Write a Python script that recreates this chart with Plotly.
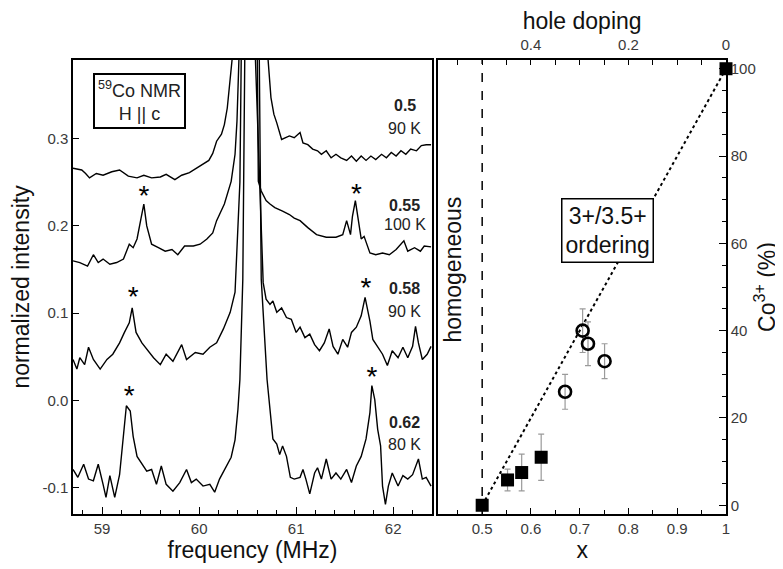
import plotly.graph_objects as go

# 59Co NMR spectra (frequency MHz, normalized intensity)
spec_050 = [(58.70, 0.266), (58.79, 0.264), (58.83, 0.260), (58.87, 0.255), (58.94, 0.260), (59.01, 0.258),
            (59.10, 0.262), (59.18, 0.264), (59.27, 0.257), (59.36, 0.255), (59.43, 0.258), (59.51, 0.255),
            (59.60, 0.256), (59.66, 0.259), (59.75, 0.253), (59.82, 0.258), (59.90, 0.261), (59.97, 0.266),
            (60.04, 0.271), (60.10, 0.275), (60.14, 0.283), (60.18, 0.297), (60.23, 0.305), (60.26, 0.316),
            (60.29, 0.335), (60.31, 0.358), (60.34, 0.391), (60.52, 1.6), (60.71, 0.391), (60.74, 0.347),
            (60.77, 0.328), (60.80, 0.318), (60.83, 0.305), (60.85, 0.299), (60.93, 0.303), (60.98, 0.301),
            (61.04, 0.307), (61.07, 0.295), (61.12, 0.293), (61.17, 0.288), (61.22, 0.286), (61.26, 0.282),
            (61.31, 0.286), (61.36, 0.278), (61.41, 0.282), (61.46, 0.278), (61.52, 0.275), (61.57, 0.280),
            (61.62, 0.274), (61.67, 0.280), (61.72, 0.275), (61.77, 0.280), (61.82, 0.276), (61.88, 0.282),
            (61.93, 0.278), (61.98, 0.284), (62.03, 0.280), (62.08, 0.286), (62.13, 0.282), (62.18, 0.288),
            (62.24, 0.286), (62.29, 0.292), (62.34, 0.293), (62.39, 0.293)]

spec_055 = [(58.70, 0.160), (58.77, 0.158), (58.85, 0.154), (58.91, 0.167), (58.96, 0.158), (59.01, 0.162),
            (59.08, 0.156), (59.15, 0.158), (59.22, 0.162), (59.28, 0.179), (59.32, 0.175), (59.36, 0.185),
            (59.40, 0.208), (59.43, 0.225), (59.46, 0.200), (59.51, 0.179), (59.58, 0.175), (59.65, 0.171),
            (59.72, 0.173), (59.78, 0.167), (59.85, 0.177), (59.94, 0.177), (60.01, 0.179), (60.08, 0.185),
            (60.14, 0.192), (60.18, 0.206), (60.26, 0.225), (60.33, 0.251), (60.37, 0.282), (60.39, 0.320),
            (60.41, 0.391), (60.55, 1.6), (60.60, 0.391), (60.61, 0.251), (60.64, 0.240), (60.69, 0.229),
            (60.73, 0.225), (60.78, 0.221), (60.86, 0.217), (60.93, 0.213), (60.98, 0.209), (61.04, 0.206),
            (61.12, 0.198), (61.21, 0.190), (61.31, 0.187), (61.41, 0.187), (61.48, 0.190), (61.52, 0.206),
            (61.56, 0.190), (61.58, 0.211), (61.61, 0.229), (61.65, 0.200), (61.67, 0.185), (61.70, 0.188),
            (61.76, 0.169), (61.82, 0.167), (61.89, 0.169), (61.96, 0.167), (62.03, 0.173), (62.11, 0.183),
            (62.15, 0.171), (62.22, 0.175), (62.28, 0.171), (62.32, 0.177), (62.39, 0.176)]

spec_058 = [(58.70, 0.047), (58.74, 0.036), (58.77, 0.049), (58.82, 0.041), (58.86, 0.061), (58.91, 0.047),
            (58.98, 0.036), (59.05, 0.047), (59.11, 0.053), (59.18, 0.066), (59.23, 0.078), (59.28, 0.089),
            (59.31, 0.106), (59.35, 0.078), (59.41, 0.066), (59.46, 0.059), (59.53, 0.049), (59.60, 0.041),
            (59.66, 0.053), (59.73, 0.045), (59.82, 0.064), (59.87, 0.047), (59.96, 0.055), (60.04, 0.053),
            (60.11, 0.061), (60.18, 0.066), (60.25, 0.082), (60.32, 0.101), (60.37, 0.124), (60.42, 0.250),
            (60.44, 0.391), (60.55, 1.6), (60.58, 0.391), (60.62, 0.251), (60.66, 0.135), (60.69, 0.116),
            (60.73, 0.110), (60.76, 0.114), (60.80, 0.101), (60.85, 0.106), (60.90, 0.095), (60.95, 0.093),
            (61.00, 0.078), (61.04, 0.084), (61.09, 0.072), (61.14, 0.076), (61.19, 0.064), (61.24, 0.057),
            (61.29, 0.066), (61.34, 0.082), (61.38, 0.062), (61.43, 0.053), (61.48, 0.070), (61.53, 0.061),
            (61.57, 0.078), (61.62, 0.084), (61.67, 0.097), (61.71, 0.118), (61.76, 0.091), (61.79, 0.070),
            (61.84, 0.062), (61.89, 0.053), (61.94, 0.040), (61.99, 0.057), (62.05, 0.049), (62.10, 0.061),
            (62.15, 0.049), (62.20, 0.062), (62.23, 0.085), (62.26, 0.066), (62.30, 0.047), (62.35, 0.053),
            (62.39, 0.062)]

spec_062 = [(58.70, -0.079), (58.75, -0.088), (58.81, -0.073), (58.86, -0.090), (58.91, -0.092), (58.96, -0.073),
            (59.01, -0.096), (59.04, -0.111), (59.08, -0.086), (59.13, -0.111), (59.18, -0.085), (59.22, -0.044),
            (59.25, -0.006), (59.29, -0.012), (59.32, -0.041), (59.36, -0.064), (59.41, -0.073), (59.46, -0.081),
            (59.51, -0.079), (59.56, -0.096), (59.61, -0.075), (59.66, -0.096), (59.73, -0.104), (59.80, -0.094),
            (59.87, -0.079), (59.92, -0.094), (59.97, -0.090), (60.04, -0.098), (60.11, -0.096), (60.16, -0.105),
            (60.21, -0.090), (60.28, -0.075), (60.33, -0.065), (60.37, -0.045), (60.40, -0.010), (60.42, 0.024),
            (60.45, 0.139), (60.47, 0.391), (60.55, 1.6), (60.62, 0.391), (60.64, 0.139), (60.70, 0.024),
            (60.76, -0.044), (60.80, -0.050), (60.83, -0.062), (60.86, -0.052), (60.90, -0.064), (60.94, -0.088),
            (60.98, -0.090), (61.04, -0.088), (61.07, -0.079), (61.10, -0.090), (61.14, -0.107), (61.19, -0.083),
            (61.22, -0.077), (61.26, -0.090), (61.31, -0.067), (61.36, -0.090), (61.41, -0.083), (61.46, -0.090),
            (61.52, -0.079), (61.57, -0.094), (61.62, -0.075), (61.67, -0.064), (61.72, -0.044), (61.76, -0.014),
            (61.78, 0.017), (61.81, 0.001), (61.84, -0.033), (61.87, -0.052), (61.89, -0.098), (61.92, -0.119),
            (61.95, -0.098), (61.99, -0.083), (62.05, -0.098), (62.10, -0.086), (62.15, -0.090), (62.20, -0.085),
            (62.26, -0.067), (62.30, -0.090), (62.34, -0.088), (62.39, -0.098)]

spectra = [spec_050, spec_055, spec_058, spec_062]

# sample labels: composition x, temperature, and the heights they sit at
sample_x = ["0.5", "0.55", "0.58", "0.62"]
sample_T = ["90 K", "100 K", "90 K", "80 K"]
label_y_x = [0.338, 0.223, 0.128, -0.025]
label_y_T = [0.311, 0.202, 0.102, -0.050]

# satellite lines marked with *
star_f = [59.43, 61.62, 59.32, 61.72, 59.28, 61.78]
star_i = [0.232, 0.234, 0.116, 0.127, 0.003, 0.025]

# Co3+ fraction vs x
sq_x = [0.5, 0.552, 0.581, 0.621, 1.0]
sq_y = [0, 5.8, 7.5, 11, 100]
sq_err = [0, 2.5, 4.2, 5.3, 0]
ci_x = [0.670, 0.706, 0.717, 0.751]
ci_y = [26, 40, 37, 33]
ci_err = [4, 5, 5, 4]
guide_x = [0.5, 1.0]
guide_y = [0, 100]

FONT = "Arial, Liberation Sans, sans-serif"
TICKC = "#3a3a3a"

fig = go.Figure()

for spec in spectra:
    fig.add_trace(go.Scatter(x=[p[0] for p in spec], y=[p[1] for p in spec], mode="lines",
                             line=dict(color="black", width=1.4), xaxis="x", yaxis="y",
                             showlegend=False, hoverinfo="skip"))

fig.add_trace(go.Scatter(x=star_f, y=star_i, mode="text", text=["*"] * len(star_f),
                         textfont=dict(size=28, color="black", family=FONT),
                         xaxis="x", yaxis="y", showlegend=False, hoverinfo="skip"))

# right panel
fig.add_trace(go.Scatter(x=guide_x, y=guide_y, mode="lines", line=dict(color="black", width=2, dash="dot"),
                         xaxis="x2", yaxis="y2", showlegend=False, hoverinfo="skip"))
fig.add_trace(go.Scatter(x=sq_x, y=sq_y, mode="markers",
                         marker=dict(symbol="square", size=13, color="black"),
                         error_y=dict(type="data", array=sq_err, color="#9a9a9a", thickness=1.2, width=3),
                         xaxis="x2", yaxis="y2", showlegend=False, cliponaxis=False))
fig.add_trace(go.Scatter(x=ci_x, y=ci_y, mode="markers",
                         marker=dict(symbol="circle-open", size=12, color="black", line=dict(width=2.6)),
                         error_y=dict(type="data", array=ci_err, color="#9a9a9a", thickness=1.2, width=3),
                         xaxis="x2", yaxis="y2", showlegend=False, cliponaxis=False))
# hole doping = 1 - x, drawn on the top axis
fig.add_trace(go.Scatter(x=[1 - v for v in sq_x], y=sq_y, mode="markers", marker=dict(opacity=0),
                         xaxis="x3", yaxis="y2", showlegend=False, hoverinfo="skip"))

fig.add_shape(type="line", xref="x2", yref="y2 domain", x0=0.5, x1=0.5, y0=0, y1=1,
              line=dict(color="black", width=1.5, dash="dash"))

ann = []
for sx, st, yx, yt in zip(sample_x, sample_T, label_y_x, label_y_T):
    ann.append(dict(x=62.12, y=yx, xref="x", yref="y", text="<b>" + sx + "</b>", showarrow=False,
                    font=dict(size=16, color="#222", family=FONT)))
    ann.append(dict(x=62.12, y=yt, xref="x", yref="y", text=st, showarrow=False,
                    font=dict(size=16, color="#222", family=FONT)))
ann.append(dict(x=59.39, y=0.343, xref="x", yref="y", text="<sup>59</sup>Co NMR<br>H || c", showarrow=False,
                font=dict(size=18, color="#222", family=FONT), bordercolor="black", borderwidth=2,
                borderpad=3, bgcolor="white"))
ann.append(dict(x=0.758, y=63, xref="x2", yref="y2", text="3+/3.5+<br>ordering", showarrow=False,
                font=dict(size=23, color="#111", family=FONT), bordercolor="black", borderwidth=1.5,
                borderpad=3, bgcolor="white"))
ann.append(dict(x=0.44, y=54, xref="x2", yref="y2", text="homogeneous", showarrow=False, textangle=-90,
                font=dict(size=23, color="#111", family=FONT)))

axis_common = dict(showline=True, linecolor="black", linewidth=1.5, mirror=True, ticks="inside",
                   tickcolor="black", showgrid=False, zeroline=False, automargin=False,
                   tickfont=dict(size=15, color=TICKC, family=FONT))

# the page body adds an 8px offset, so margins are shifted to land the frames where the reference has them
fig.update_layout(
    width=783, height=569,
    margin=dict(l=65, r=65, t=52, b=63),
    plot_bgcolor="white", paper_bgcolor="white",
    font=dict(family=FONT, color="black"),
    annotations=ann,
    xaxis=dict(domain=[0, 0.5498], range=[58.7, 62.4], tickvals=[59, 60, 61, 62], ticklen=7,
               minor=dict(dtick=0.2, ticks="inside", ticklen=4, tickcolor="black"),
               title=dict(text="frequency (MHz)", font=dict(size=23, color="#111"), standoff=6),
               **axis_common),
    yaxis=dict(domain=[0, 1], range=[-0.13, 0.39], tickvals=[-0.1, 0.0, 0.1, 0.2, 0.3],
               ticktext=["-0.1", "0.0", "0.1", "0.2", "0.3"], ticklen=6,
               title=dict(text="normalized intensity", font=dict(size=23, color="#111"), standoff=8),
               **axis_common),
    xaxis2=dict(domain=[0.5594, 1], range=[0.41, 1.0], tickvals=[0.5, 0.6, 0.7, 0.8, 0.9, 1.0],
                ticktext=["0.5", "0.6", "0.7", "0.8", "0.9", "1"], ticklen=6, anchor="y2",
                minor=dict(dtick=0.05, ticks="inside", ticklen=4, tickcolor="black"),
                title=dict(text="x", font=dict(size=23, color="#111"), standoff=6),
                **axis_common),
    yaxis2=dict(domain=[0, 1], range=[-2, 102], side="right", anchor="x2", tickvals=[0, 20, 40, 60, 80, 100],
                ticklen=7, minor=dict(dtick=5, ticks="inside", ticklen=4, tickcolor="black"),
                title=dict(text="Co<sup>3+</sup> (%)", font=dict(size=23, color="#111"), standoff=4),
                **axis_common),
    xaxis3=dict(overlaying="x2", side="top", anchor="y2", range=[0.59, 0.0], tickvals=[0.4, 0.2, 0.0],
                ticktext=["0.4", "0.2", "0"], ticks="inside", ticklen=5, tickcolor="black",
                minor=dict(dtick=0.05, ticks="inside", ticklen=5, tickcolor="black"),
                showline=False, showgrid=False, zeroline=False, automargin=False, ticklabelstandoff=6,
                tickfont=dict(size=15, color=TICKC, family=FONT),
                title=dict(text="hole doping", font=dict(size=23, color="#111"), standoff=6)),
)

fig.write_html("out.html")
